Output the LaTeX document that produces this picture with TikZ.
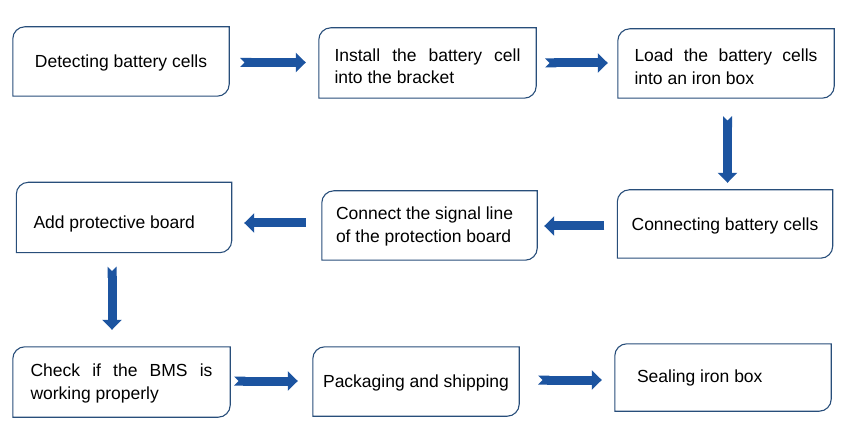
\documentclass[tikz,border=0pt]{standalone}
\usepackage{fontspec}
\setmainfont{Liberation Sans}
\usetikzlibrary{arrows.meta,calc}
\definecolor{boxline}{RGB}{40,78,122}
\definecolor{arrowblue}{RGB}{28,84,160}
\newcommand\lowtext[2]{\raisebox{-#1}[\height][\depth]{#2}}
\tikzset{
  stagebox/.style={rectangle, inner sep=0pt, font=\fontsize{17.5}{22.5}\selectfont},
  frameline/.style={draw=boxline, line width=1.1pt},
  flowarrow/.style={line width=9pt, draw=arrowblue, -{Triangle[length=10pt,width=19pt]}},
  notched/.style={{Triangle Cap[reversed]}-{Triangle[length=10pt,width=19pt]}},
}
\begin{document}
\begin{tikzpicture}[x=1pt,y=1pt]
\fill[white] (0,0) rectangle (848,-438);
\useasboundingbox (0,0) rectangle (848,-438);

\node[stagebox, minimum width=216pt, minimum height=69pt] (n1) at (121,-61.5)
  {\lowtext{1.5pt}{\parbox{190pt}{\centering Detecting battery cells}}};
\node[stagebox, minimum width=217pt, minimum height=70pt] (n2) at (427.5,-63)
  {\lowtext{3pt}{\parbox{186pt}{\raggedright Install\hfill the\hfill battery\hfill cell\\into the bracket}}};
\node[stagebox, minimum width=216pt, minimum height=69pt] (n3) at (726,-63.5)
  {\lowtext{3pt}{\parbox{183pt}{\raggedright Load\hfill the\hfill battery\hfill cells\\into an iron box}}};
\node[stagebox, minimum width=215pt, minimum height=68pt] (n4) at (725,-224)
  {\lowtext{1.5pt}{\parbox{200pt}{\centering Connecting battery cells}}};
\node[stagebox, minimum width=215pt, minimum height=69pt] (n5) at (429.5,-225.5)
  {\lowtext{1pt}{\parbox{187pt}{\raggedright Connect the signal line\\of the protection board}}};
\node[stagebox, minimum width=215pt, minimum height=70pt] (n6) at (124,-217.5)
  {\lowtext{6pt}{\parbox{181pt}{\raggedright Add protective board}}};
\node[stagebox, minimum width=217pt, minimum height=70pt] (n7) at (121.5,-382)
  {\lowtext{1.5pt}{\parbox{182pt}{\raggedright Check\hfill if\hfill the\hfill BMS\hfill is\\working properly}}};
\node[stagebox, minimum width=206pt, minimum height=69pt] (n8) at (416,-381.5)
  {\lowtext{1pt}{\parbox{194pt}{\centering Packaging and shipping}}};
\node[stagebox, minimum width=216pt, minimum height=67pt] (n9) at (723,-377.5)
  {\lowtext{0.5pt}{\parbox{172pt}{\raggedright Sealing iron box}}};

\foreach \i in {1,...,9}{
  \draw[frameline] (n\i.south west) -- ([yshift=-12pt]n\i.north west)
    arc[start angle=180,end angle=90,radius=12pt] -- (n\i.north east)
    -- ([yshift=12pt]n\i.south east)
    arc[start angle=0,end angle=-90,radius=12pt] -- cycle;
}

\draw[flowarrow, notched] ([xshift=11pt,yshift=-1pt]n1.east) -- ([xshift=-13pt,yshift=-1pt]n1.east -| n2.west);
\draw[flowarrow, notched] ([xshift=9pt]n2.east) -- ([xshift=-10pt]n2.east -| n3.west);
\draw[flowarrow, notched] ([xshift=1.5pt,yshift=-18pt]n3.south) -- ([xshift=1.5pt,yshift=7pt]n3.south |- n4.north);
\draw[flowarrow] ([xshift=-13pt,yshift=-2pt]n4.west) -- ([xshift=7pt,yshift=-2pt]n4.west -| n5.east);
\draw[flowarrow] ([xshift=-16pt,yshift=2.5pt]n5.west) -- ([xshift=12.5pt,yshift=2.5pt]n5.west -| n6.east);
\draw[flowarrow, notched] ([xshift=-12pt,yshift=-14pt]n6.south) -- ([xshift=-12pt,yshift=17pt]n6.south |- n7.north);
\draw[flowarrow, notched] ([xshift=4pt,yshift=1pt]n7.east) -- ([xshift=-15pt,yshift=1pt]n7.east -| n8.west);
\draw[flowarrow, notched] ([xshift=19pt,yshift=1.5pt]n8.east) -- ([xshift=-13pt,yshift=1.5pt]n8.east -| n9.west);
\end{tikzpicture}
\end{document}
